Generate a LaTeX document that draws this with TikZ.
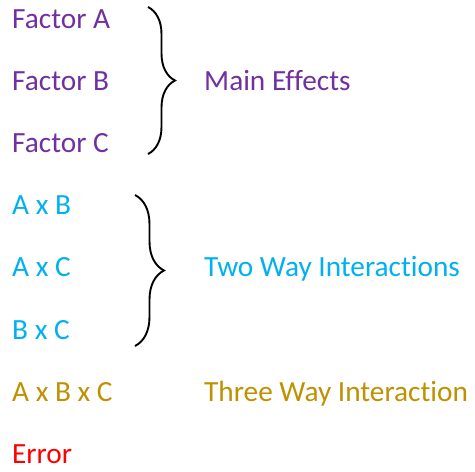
\documentclass[tikz,border=0pt]{standalone}
\usepackage{fontspec}
\setmainfont{Carlito}[Ligatures={NoCommon}]
\usetikzlibrary{positioning,decorations.pathreplacing}
\definecolor{mainpurple}{HTML}{7030A0}
\definecolor{twocyan}{HTML}{00B0F0}
\definecolor{threegold}{HTML}{BF9000}
\definecolor{errred}{HTML}{FF0000}
\tikzstyle{term} = [anchor=base west, inner sep=0pt,
    font=\fontsize{29.3}{34}\selectfont]
\tikzstyle{mainterm} = [term, text=mainpurple]
\tikzstyle{twoterm} = [term, text=twocyan]
\tikzstyle{threeterm} = [term, text=threegold]
\tikzstyle{errterm} = [term, text=errred]
\tikzstyle{brace} = [draw, line width=1.9pt,
    decorate, decoration={brace, amplitude=27pt}]

\begin{document}
\begin{tikzpicture}[x=1pt, y=1pt, node distance=62.2pt]
    \useasboundingbox (0,0) rectangle (475,-472);
    % The terms, one below the other
    \node [mainterm] (facA) at (12,-28) {Factor A};
    \node [mainterm, below=of facA.base west, anchor=base west] (facB) {Factor B};
    \node [mainterm, below=of facB.base west, anchor=base west] (facC) {Factor C};
    \node [twoterm, below=of facC.base west, anchor=base west] (AB) {A x B};
    \node [twoterm, below=of AB.base west, anchor=base west] (AC) {A x C};
    \node [twoterm, below=of AC.base west, anchor=base west] (BC) {B x C};
    \node [threeterm, below=of BC.base west, anchor=base west] (ABC) {A x B x C};
    \node [errterm, below=of ABC.base west, anchor=base west] (err) {Error};

    % The groups on the right
    \node [mainterm] (maineff) at (204,0 |- facB.base) {Main Effects};
    \node [twoterm] (twoway) at (204,0 |- AC.base) {Two Way Interactions};
    \node [threeterm] (threeway) at (204,0 |- ABC.base) {Three Way Interaction};

    % Braces round the first two groups
    \coordinate (maintop) at (148,-7);
    \coordinate (mainbot) at (148,-154);
    \coordinate (twotop) at (135,-195);
    \coordinate (twobot) at (135,-346);
    \draw [brace] (maintop) -- (mainbot);
    \draw [brace, decoration={amplitude=29pt}] (twotop) -- (twobot);
\end{tikzpicture}
\end{document}
